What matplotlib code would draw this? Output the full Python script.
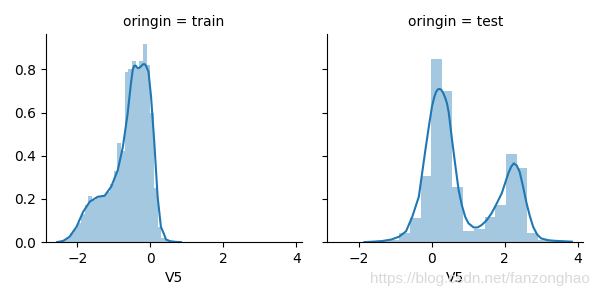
import matplotlib
matplotlib.use("Agg")
import matplotlib.pyplot as plt

# train histogram (bin left edges, width 0.1) and density heights
train_edges = [-2.5, -2.4, -2.3, -2.2, -2.1, -2.0, -1.9, -1.8, -1.7, -1.6,
               -1.5, -1.4, -1.3, -1.2, -1.1, -1.0, -0.9, -0.8, -0.7, -0.6,
               -0.5, -0.4, -0.3, -0.2, -0.1, 0.0, 0.1, 0.2, 0.3, 0.4, 0.5]
train_hist = [0.005, 0.01, 0.02, 0.04, 0.06, 0.09, 0.13, 0.17, 0.215, 0.195,
              0.205, 0.21, 0.22, 0.23, 0.27, 0.33, 0.46, 0.42, 0.79, 0.80,
              0.84, 0.80, 0.84, 0.92, 0.82, 0.60, 0.25, 0.07, 0.02, 0.008, 0.004]
train_width = 0.1

# train KDE
train_kde_x = [-2.55, -2.38, -2.21, -2.02, -1.84, -1.66, -1.44, -1.25, -1.07,
               -0.89, -0.75, -0.62, -0.53, -0.48, -0.44, -0.40, -0.35, -0.30,
               -0.25, -0.20, -0.16, -0.12, -0.05, 0.02, 0.11, 0.20, 0.29, 0.38,
               0.43, 0.55, 0.70, 0.84]
train_kde_y = [0.0, 0.006, 0.025, 0.071, 0.14, 0.187, 0.21, 0.215, 0.257,
               0.334, 0.442, 0.597, 0.736, 0.80, 0.817, 0.818, 0.806, 0.808,
               0.815, 0.824, 0.825, 0.818, 0.79, 0.674, 0.46, 0.21, 0.071, 0.035,
               0.012, 0.004, 0.001, 0.0]

# test histogram (bin edges) and density heights
test_edges = [-1.77, -1.475, -1.18, -0.89, -0.60, -0.30, -0.01, 0.28, 0.57,
              0.86, 1.15, 1.45, 1.74, 2.03, 2.33, 2.62, 2.91, 3.21, 3.50]
test_hist = [0.003, 0.005, 0.01, 0.04, 0.111, 0.308, 0.848, 0.70, 0.257,
             0.051, 0.059, 0.117, 0.172, 0.408, 0.345, 0.040, 0.008, 0.003]

# test KDE
test_kde_x = [-1.84, -1.6, -1.35, -1.1, -0.89, -0.70, -0.53, -0.35, -0.17,
              -0.08, 0.01, 0.07, 0.12, 0.17, 0.22, 0.27, 0.32, 0.37, 0.42,
              0.47, 0.56, 0.65, 0.74, 0.83, 0.92, 1.01, 1.15, 1.26, 1.37,
              1.50, 1.64, 1.78, 1.92, 2.01, 2.10, 2.18, 2.25, 2.33, 2.41,
              2.50, 2.60, 2.69, 2.78, 2.89, 3.00, 3.18, 3.36, 3.60, 3.84]
test_kde_y = [0.0, 0.002, 0.005, 0.012, 0.025, 0.05, 0.117, 0.21, 0.427,
              0.53, 0.628, 0.67, 0.695, 0.708, 0.71, 0.705, 0.69, 0.67, 0.644,
              0.60, 0.473, 0.355, 0.241, 0.17, 0.117, 0.087, 0.068, 0.068, 0.079,
              0.10, 0.133, 0.178, 0.226, 0.272, 0.319, 0.35, 0.365, 0.355, 0.326,
              0.26, 0.18, 0.12, 0.071, 0.035, 0.017, 0.009, 0.006, 0.004, 0.002]

panels = [("train", train_edges, train_hist,
           [train_width] * len(train_hist), train_kde_x, train_kde_y),
          ("test", test_edges[:-1], test_hist,
           [b - a for a, b in zip(test_edges[:-1], test_edges[1:])],
           test_kde_x, test_kde_y)]

fig, axes = plt.subplots(1, 2, figsize=(6, 3), dpi=100, sharex=True, sharey=True)
fig.subplots_adjust(left=0.077, right=0.972, bottom=0.193, top=0.887, wspace=0.1)

for ax, (name, lefts, heights, widths, kx, ky) in zip(axes, panels):
    ax.bar(lefts, heights, width=widths, align="edge", color="C0",
           alpha=0.4, linewidth=0)
    ax.plot(kx, ky, color="C0", lw=1.5)
    ax.set_title("oringin = " + name, fontsize=10)
    ax.set_xlabel("V5")
    ax.spines["top"].set_visible(False)
    ax.spines["right"].set_visible(False)

axes[0].set_xlim(-2.85, 4.15)
axes[0].set_ylim(0, 0.965)
axes[0].set_xticks([-2, 0, 2, 4])
axes[0].set_yticks([0.0, 0.2, 0.4, 0.6, 0.8])
axes[1].tick_params(labelleft=False)

# watermark (overlaps the right x label, as in the source image)
fig.text(0.983, 0.045, "https://blog.csdn.net/fanzonghao", ha="right",
         va="bottom", fontsize=11, color="#d9d9d9", family="Liberation Sans")

fig.savefig("out.png", dpi=100)
